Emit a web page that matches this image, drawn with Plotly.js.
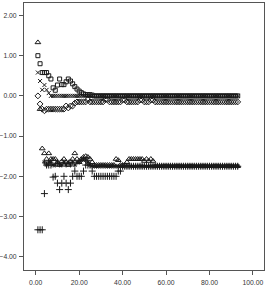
<!DOCTYPE html>
<html>
<head>
<meta charset="utf-8">
<script src="https://cdn.plot.ly/plotly-3.0.1.min.js"></script>
<style>
html,body{margin:0;padding:0;background:#fff;}
#chart{width:267px;height:290px;}
</style>
</head>
<body>
<div id="chart"></div>
<script>
var iterations = [1,2,3,4,5,6,7,8,9,10,11,12,13,14,15,16,17,18,19,20,21,22,23,24,25,26,27,28,29,30,31,32,33,34,35,36,37,38,39,40,41,42,43,44,45,46,47,48,49,50,51,52,53,54,55,56,57,58,59,60,61,62,63,64,65,66,67,68,69,70,71,72,73,74,75,76,77,78,79,80,81,82,83,84,85,86,87,88,89,90,91,92,93];

var triangleSeries = [1.33,-0.33,-1.31,-1.43,-1.57,-1.43,-1.57,-1.57,-1.57,-1.65,-1.72,-1.63,-1.57,-1.65,-1.72,-1.63,-1.57,-1.43,-1.57,-1.65,-1.57,-1.52,-1.5,-1.52,-1.57,-1.65,
-1.72,-1.72,-1.72,-1.72,-1.72,-1.72,-1.72,-1.72,-1.72,-1.72,
-1.57,-1.6,-1.72,-1.72,-1.72,-1.65,
-1.57,-1.57,-1.57,-1.57,-1.57,-1.57,-1.57,
-1.62,-1.57,-1.62,-1.57,-1.62,
-1.75,-1.75,-1.75,-1.75,-1.75,-1.75,-1.75,-1.75,-1.75,-1.75,-1.75,-1.75,-1.75,-1.75,-1.75,-1.75,-1.75,-1.75,-1.75,-1.75,-1.75,-1.75,-1.75,-1.75,-1.75,-1.75,-1.75,-1.75,-1.75,-1.75,-1.75,-1.75,-1.75,-1.75,-1.75,-1.75,-1.75,-1.75,-1.75];

var plusSeries = [-3.33,-3.33,-3.33,-2.43,-1.72,-1.72,-1.72,-2.02,-2.0,-2.17,-2.33,-2.17,-2.0,-2.17,-2.33,-2.17,-2.0,-1.87,-2.0,-2.0,-2.0,-1.87,-1.72,-1.72,-1.72,-1.87,
-2.0,-2.0,-2.0,-2.0,-2.0,-2.0,-2.0,-2.0,-2.0,-2.0,-2.0,
-1.87,-1.87,
-1.75,-1.75,-1.75,-1.75,-1.75,-1.75,-1.75,-1.75,-1.75,-1.75,-1.75,-1.75,-1.75,-1.75,-1.75,-1.75,-1.75,-1.75,-1.75,-1.75,-1.75,-1.75,-1.75,-1.75,-1.75,-1.75,-1.75,-1.75,-1.75,-1.75,-1.75,-1.75,-1.75,-1.75,-1.75,-1.75,-1.75,-1.75,-1.75,-1.75,-1.75,-1.75,-1.75,-1.75,-1.75,-1.75,-1.75,-1.75,-1.75,-1.75,-1.75,-1.75,-1.75,-1.75];

var asteriskSeries = [null,null,null,-1.65,-1.72,-1.65,-1.65,-1.72,-1.72,-1.65,-1.72,-1.72,-1.65,-1.72,-1.65,-1.72,-1.65,-1.72,-1.65,-1.65,-1.6,-1.57,-1.6,-1.65,-1.72,
-1.75,-1.75,-1.75,-1.75,-1.75,-1.75,-1.75,-1.75,-1.75,-1.75,-1.75,-1.75,-1.75,-1.75,-1.75,-1.75,-1.75,-1.75,-1.75,-1.75,-1.75,-1.75,-1.75,-1.75,-1.75,-1.75,-1.75,-1.75,-1.75,-1.75,-1.75,-1.75,-1.75,-1.75,-1.75,-1.75,-1.75,-1.75,-1.75,-1.75,-1.75,-1.75,-1.75,-1.75,-1.75,-1.75,-1.75,-1.75,-1.75,-1.75,-1.75,-1.75,-1.75,-1.75,-1.75,-1.75,-1.75,-1.75,-1.75,-1.75,-1.75,-1.75,-1.75,-1.75,-1.75,-1.75,-1.75,-1.75];

var squareSeries = [1.0,0.8,0.58,0.58,0.58,0.5,0.42,0.2,0.14,0.27,0.42,0.28,0.28,0.35,0.42,0.37,0.3,0.23,0.17,0.12,0.08,0.05,0.03,0.03,0.03,0.02,
0,0,0,0,0,0,0,0,0,0,0,0,0,0,0,0,0,0,0,0,0,0,0,0,0,0,0,0,0,0,0,0,0,0,0,0,0,0,0,0,0,0,0,0,0,0,0,0,0,0,0,0,0,0,0,0,0,0,0,0,0,0,0,0,0,0,0];

var xSeries = [0.58,0.37,0.15,0.27,0.15,0.07,
0,0,0,0,0,0,0,0,0,0,0,0,0,0,0,0,0,0,0,0,0,0,0,0,0,0,0,0,0,0,0,0,0,0,0,0,0,0,0,0,0,0,0,0,0,0,0,0,0,0,0,0,0,0,0,0,0,0,0,0,0,0,0,0,0,0,0,0,0,0,0,0,0,0,0,0,0,0,0,0,0,0,0,0,0,0,0];

var diamondSeries = [0,-0.2,-0.33,-0.37,
-0.33,-0.33,-0.33,-0.33,-0.33,-0.33,-0.33,-0.33,-0.33,
-0.25,-0.3,-0.25,-0.25,-0.18,
-0.15,-0.15,-0.15,-0.15,-0.15,
-0.09,
-0.15,-0.15,-0.15,-0.15,-0.15,-0.15,-0.15,
-0.09,-0.09,
-0.15,-0.15,-0.15,-0.15,-0.15,-0.15,
-0.1,-0.1,
-0.15,-0.15,-0.15,-0.15,-0.15,-0.15,
-0.1,-0.1,
-0.15,-0.15,-0.15,
-0.1,-0.1,
-0.15,-0.15,-0.15,-0.15,-0.15,-0.15,-0.15,-0.15,-0.15,-0.15,-0.15,-0.15,-0.15,-0.15,-0.15,-0.15,-0.15,-0.15,-0.15,-0.15,-0.15,-0.15,-0.15,-0.15,-0.15,-0.15,-0.15,-0.15,-0.15,-0.15,-0.15,-0.15,-0.15,-0.15,-0.15,-0.15,-0.15,-0.15,-0.15];

var xTicks = [0,20,40,60,80,100];
var yTicks = [-4,-3,-2,-1,0,1,2];

var ink = '#1a1a1a';
function trace(y, symbol, size) {
  return {
    x: iterations, y: y, type: 'scatter', mode: 'markers', hoverinfo: 'none',
    marker: {symbol: symbol, size: size, color: ink, line: {color: ink, width: 1}}
  };
}

var data = [
  trace(diamondSeries, 'diamond-open', 4.5),
  trace(xSeries, 'x-thin-open', 4),
  trace(squareSeries, 'square-open', 4),
  trace(asteriskSeries, 'asterisk-open', 4),
  trace(plusSeries, 'cross-thin-open', 5),
  trace(triangleSeries, 'triangle-up-open', 5)
];

var axisCommon = {
  showline: true, mirror: true, linecolor: '#555555', linewidth: 1,
  ticks: 'outside', ticklen: 4, tickwidth: 1, tickcolor: '#555555',
  showgrid: false, zeroline: false, tickformat: '.2f',
  tickfont: {family: 'Liberation Sans, Arial, sans-serif', size: 6.8, color: '#333333'}
};

var layout = {
  width: 267, height: 290,
  margin: {l: 24, r: 3, t: 3, b: 20},
  paper_bgcolor: '#ffffff', plot_bgcolor: '#ffffff',
  showlegend: false,
  xaxis: Object.assign({}, axisCommon, {range: [-5.4, 105.1], tickvals: xTicks, ticklabelstandoff: 2}),
  yaxis: Object.assign({}, axisCommon, {range: [-4.33, 2.31], tickvals: yTicks, ticklabelstandoff: 1})
};

Plotly.newPlot('chart', data, layout, {staticPlot: true, displayModeBar: false});
</script>
</body>
</html>
